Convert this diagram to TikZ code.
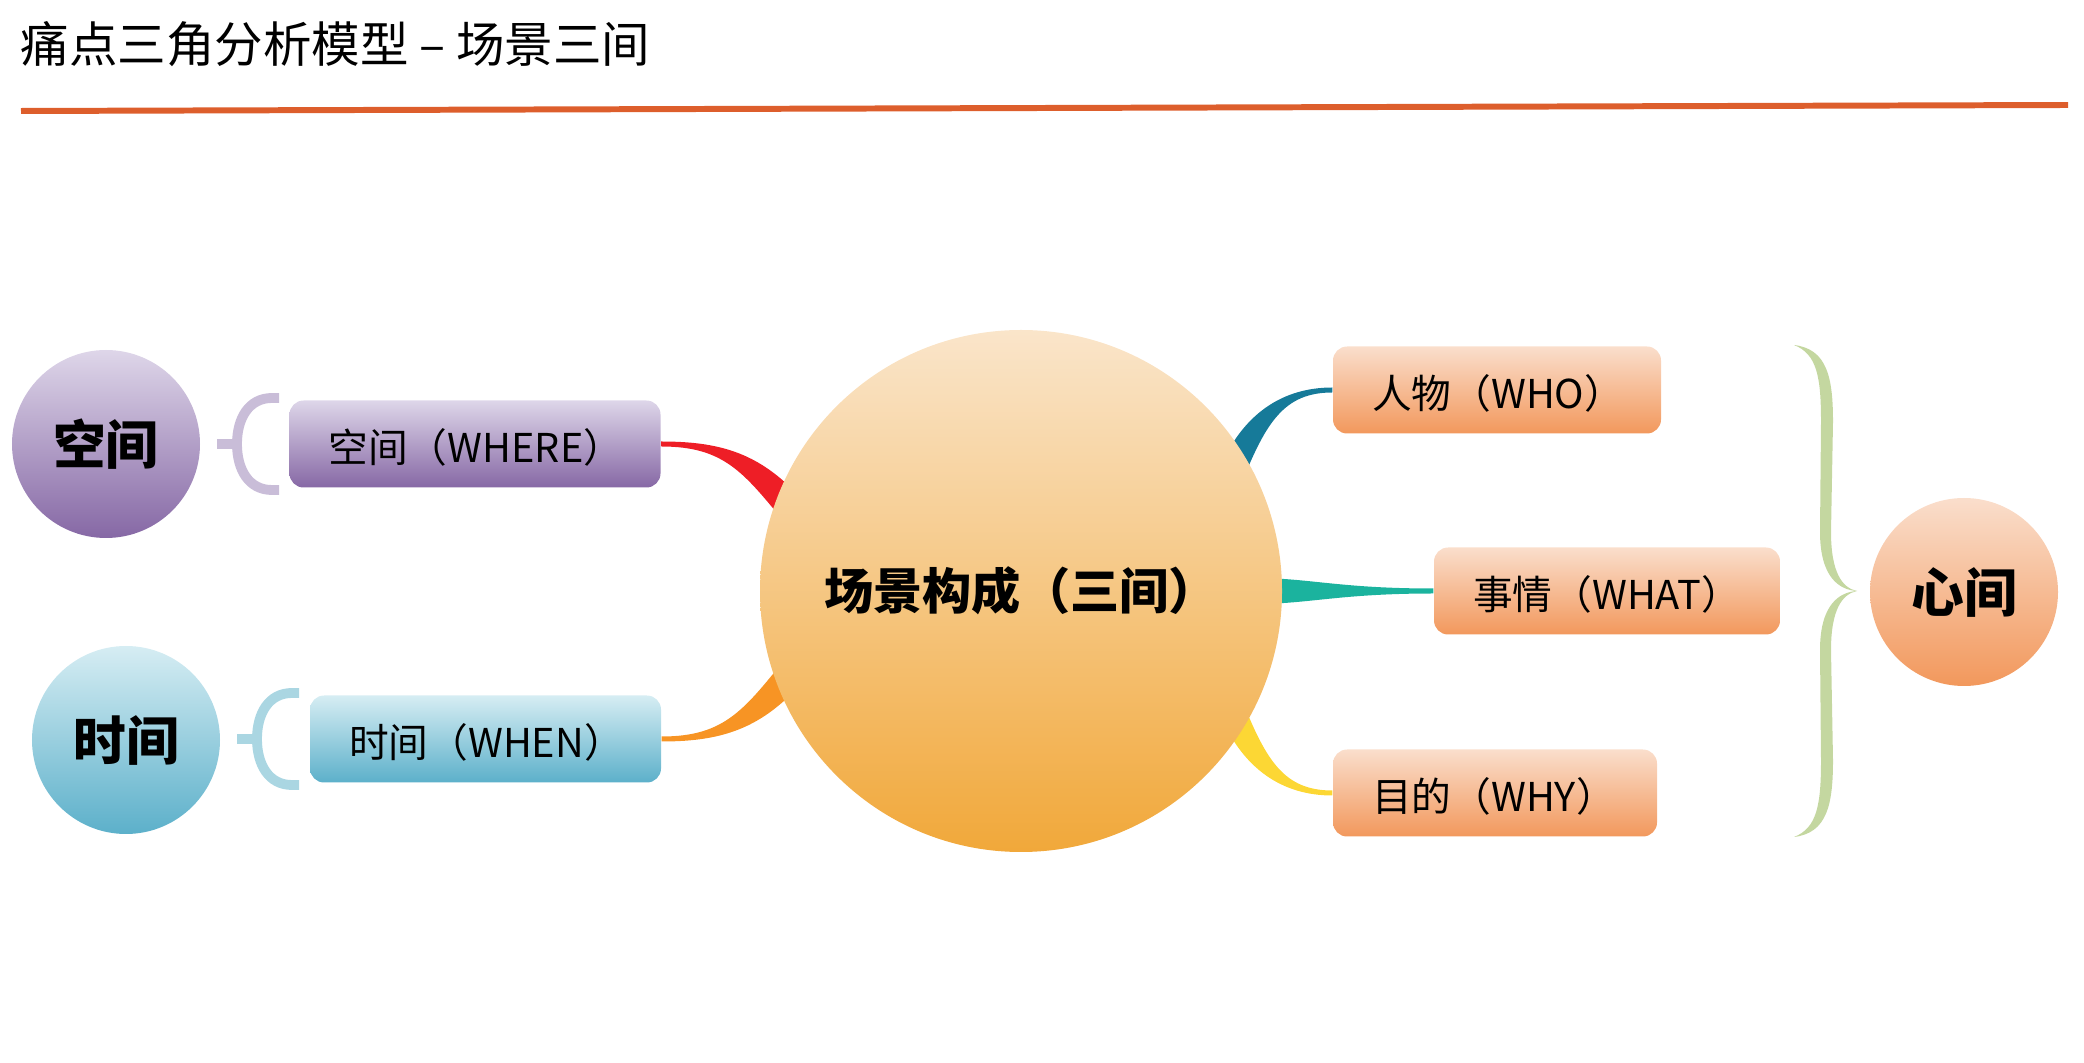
\documentclass[tikz,border=0pt]{standalone}
\usepackage{fontspec}
\setmainfont{Noto Sans CJK SC}
\usetikzlibrary{calc,backgrounds}
\definecolor{titleline}{RGB}{221,94,44}
\definecolor{purpletop}{RGB}{222,214,233}
\definecolor{purplebot}{RGB}{134,104,165}
\definecolor{bluetop}{RGB}{214,237,243}
\definecolor{bluebot}{RGB}{92,176,202}
\definecolor{hubtop}{RGB}{250,229,202}
\definecolor{hubbot}{RGB}{241,168,58}
\definecolor{peachtop}{RGB}{250,222,204}
\definecolor{peachbot}{RGB}{242,152,92}
\definecolor{brktpurple}{RGB}{201,189,216}
\definecolor{brktblue}{RGB}{170,214,226}
\definecolor{bracegreen}{RGB}{196,215,160}
\definecolor{branchred}{RGB}{238,30,38}
\definecolor{branchorange}{RGB}{247,148,36}
\definecolor{branchblue}{RGB}{22,122,153}
\definecolor{branchteal}{RGB}{27,179,158}
\definecolor{branchyellow}{RGB}{252,215,52}
\tikzset{
  hub/.style={circle, inner sep=0pt, text=black, font=\bfseries\fontsize{15pt}{18pt}\selectfont},
  leaf/.style={rounded corners=4pt, minimum height=0.87cm, inner xsep=0.39cm, inner ysep=0pt,
    text height=0.42cm, text depth=0.05cm, align=left, font=\fontsize{11.3pt}{13pt}\selectfont},
  hook/.pic={
    \draw[line width=2.8pt, line cap=butt] (0.62,0.46) -- (0.55,0.46) .. controls (0.32,0.46) and (0.20,0.26) .. (0.20,0)
      .. controls (0.20,-0.26) and (0.32,-0.46) .. (0.55,-0.46) -- (0.62,-0.46);
    \draw[line width=2.8pt, line cap=butt] (0,0) -- (0.21,0);
  },
  halfbrace/.pic={
    \fill (-0.63,2.46) .. controls (-0.30,2.42) and (-0.24,2.14) .. (-0.24,1.69) -- (-0.26,0.59)
      .. controls (-0.26,0.19) and (-0.15,0.03) .. (0,0)
      .. controls (-0.18,0.01) and (-0.37,0.14) .. (-0.37,0.59) -- (-0.36,1.69)
      .. controls (-0.36,2.14) and (-0.40,2.37) .. (-0.63,2.46) -- cycle;
  }
}

\begin{document}
\begin{tikzpicture}[line cap=round,line join=round,x=1cm,y=1cm]
    \clip(0,0) rectangle (20.84,10.62);
    \draw(0.20,10.18) node[anchor=west, inner sep=0pt, font=\fontsize{13.8pt}{16pt}\selectfont] (title) {痛点三角分析模型 – 场景三间};
    \draw[titleline, line width=1.7pt, line cap=butt] (0.21,9.51) -- (20.68,9.57);

    % circles
    \draw(1.06,6.18) node[hub, minimum size=1.88cm, top color=purpletop, bottom color=purplebot] (space) {空间};
    \draw(1.26,3.22) node[hub, minimum size=1.88cm, top color=bluetop, bottom color=bluebot] (time) {时间};
    \draw(19.64,4.70) node[hub, minimum size=1.88cm, top color=peachtop, bottom color=peachbot] (heart) {心间};
    \draw(10.21,4.71) node[hub, minimum size=5.22cm, top color=hubtop, bottom color=hubbot,
        font=\bfseries\fontsize{14pt}{16pt}\selectfont] (scene) {场景构成（三间）};

    % boxes
    \draw(4.75,6.18) node[leaf, text width=2.93cm, top color=purpletop, bottom color=purplebot] (where) {空间（WHERE）};
    \draw(4.855,3.23) node[leaf, text width=2.73cm, top color=bluetop, bottom color=bluebot] (when) {时间（WHEN）};
    \draw(14.97,6.72) node[leaf, text width=2.50cm, top color=peachtop, bottom color=peachbot] (who) {人物（WHO）};
    \draw(16.07,4.71) node[leaf, text width=2.68cm, top color=peachtop, bottom color=peachbot] (what) {事情（WHAT）};
    \draw(14.95,2.69) node[leaf, text width=2.46cm, top color=peachtop, bottom color=peachbot] (why) {目的（WHY）};

    \pic[color=brktpurple] at (2.17,6.18) {hook};
    \pic[color=brktblue] at (2.37,3.23) {hook};
    \pic[color=bracegreen] at (18.57,4.71) {halfbrace};
    \pic[color=bracegreen, yscale=-1] at (18.57,4.71) {halfbrace};

    % Branches
    \begin{scope}[on background layer]
    \foreach \src/\side/\ca/\cb/\ang/\rad/\nv/\col in {
        where/east/{0.64,0}/{0.94,-0.20}/162/2.32/{0.11,0.09}/branchred,
        when/east/{0.64,0}/{0.94,0.21}/198/2.32/{-0.11,0.09}/branchorange,
        who/west/{-0.48,0}/{-0.78,-0.27}/28.6/2.38/{-0.12,0.05}/branchblue,
        what/west/{-0.94,0}/{-1.24,0}/0/2.34/{0,0.13}/branchteal,
        why/west/{-0.48,0}/{-0.78,0.27}/-28.6/2.38/{0.12,0.05}/branchyellow} {
            \fill[\col] ($(\src.\side)+(0,0.025)$) .. controls ($(\src.\side)+(\ca)+(0,0.025)$) and ($(\src.\side)+(\cb)+(\nv)$)
                .. ($(scene.center)+(\ang:\rad)+(\nv)$) -- ($(scene.center)+(\ang:\rad)-(\nv)$)
                .. controls ($(\src.\side)+(\cb)-(\nv)$) and ($(\src.\side)+(\ca)-(0,0.025)$) .. ($(\src.\side)-(0,0.025)$) -- cycle;
        }
    \end{scope}
\end{tikzpicture}
\end{document}
